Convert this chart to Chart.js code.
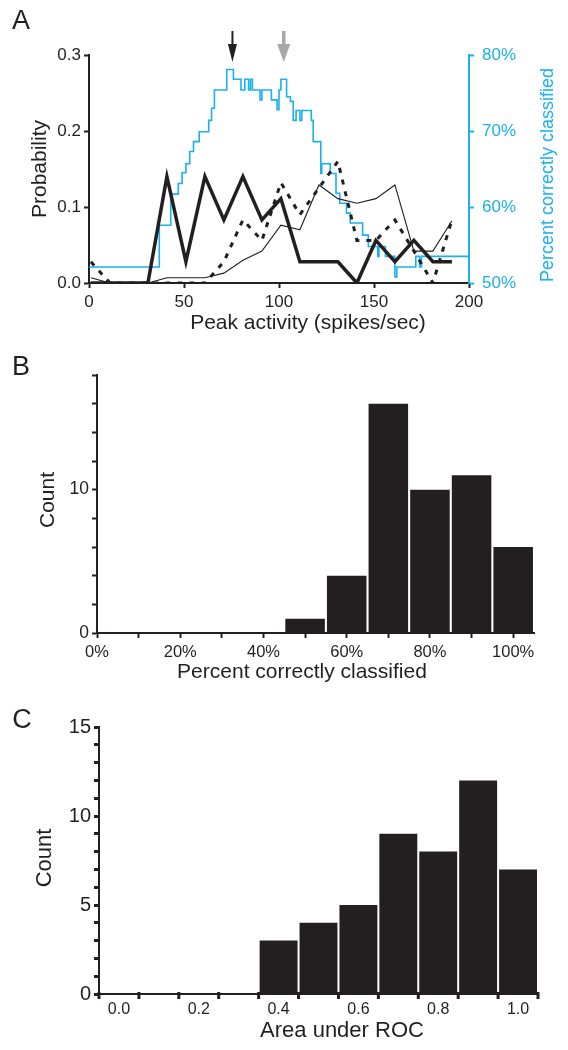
<!DOCTYPE html>
<html>
<head>
<meta charset="utf-8">
<script src="https://cdn.jsdelivr.net/npm/chart.js@4.4.0/dist/chart.umd.min.js"></script>
<style>
  body { margin:0; background:#fff; width:568px; height:1050px; position:relative; overflow:hidden;
         font-family:"Liberation Sans", Arial, sans-serif; color:#231f20; }
  .panel { position:absolute; left:0; width:568px; }
  .lbl { position:absolute; white-space:nowrap; line-height:1; transform:translate(-50%,-50%); }
  .rot { transform:translate(-50%,-50%) rotate(-90deg); }
</style>
</head>
<body>
<div class="panel" style="top:0;height:340px"><canvas id="chartA"></canvas></div>
<div class="panel" style="top:340px;height:350px"><canvas id="chartB"></canvas></div>
<div class="panel" style="top:690px;height:360px"><canvas id="chartC"></canvas></div>

<div class="lbl" style="left:21px;top:20px;font-size:27px">A</div>
<div class="lbl" style="left:21px;top:366px;font-size:27px">B</div>
<div class="lbl" style="left:22px;top:719px;font-size:27px">C</div>

<div class="lbl rot" style="left:38px;top:169px;font-size:21px">Probability</div>
<div class="lbl rot" style="left:547px;top:175px;font-size:18px;color:#1cb0ec">Percent correctly classified</div>
<div class="lbl" style="left:308px;top:321px;font-size:21px">Peak activity (spikes/sec)</div>

<div class="lbl rot" style="left:46px;top:500px;font-size:21px">Count</div>
<div class="lbl" style="left:302px;top:670px;font-size:21px">Percent correctly classified</div>

<div class="lbl rot" style="left:44px;top:858px;font-size:22px">Count</div>
<div class="lbl" style="left:342px;top:1030px;font-size:22px">Area under ROC</div>

<script>
// Panel A: probability distributions vs peak activity
const binX = [1, 11, 21, 31, 41, 51, 61, 71, 81, 91, 101, 111, 121, 131, 141, 151, 161, 171, 181, 191];
const probThick = [0, 0, 0, 0, 0.14, 0.028, 0.14, 0.083, 0.14, 0.083, 0.111, 0.028, 0.028, 0.028, 0, 0.056, 0.028, 0.056, 0.028, 0.028];
const probThin = [0.007, 0, 0, 0, 0.007, 0.007, 0.007, 0.013, 0.03, 0.042, 0.076, 0.07, 0.129, 0.111, 0.105, 0.111, 0.129, 0.042, 0.042, 0.082];
const probDashed = [0.028, 0, 0, 0, 0, 0, 0, 0.028, 0.083, 0.056, 0.132, 0.09, 0.125, 0.16, 0.056, 0.056, 0.083, 0.042, 0, 0.083];

// threshold curve (percent correctly classified), value holds until next x
const thrX = [0, 37, 43, 47, 49, 51, 53, 55, 58, 63, 64.5, 66, 72.5, 76, 80, 82, 84, 85, 86, 90,
              91, 96, 99, 100, 101, 104, 106, 107.5, 109, 111, 112, 117, 118, 122, 122.5, 127, 130, 132, 135.5, 137.5,
              144, 147, 152, 152.6, 156, 161, 162, 172, 174, 175, 197, 200];
const pctCorrect = [52.1, 57.6, 61.7, 63.1, 64.5, 65.7, 67.3, 68.6, 69.9, 71.4, 73, 75.4, 78.1, 76.8, 75.4, 76.8, 75.4, 76.8, 75.4, 74.1,
                    75.4, 74.1, 72.8, 75.4, 76.8, 74.5, 73.9, 71.4, 72.7, 71.4, 72.7, 71.4, 68.6, 64.4, 65.7, 64.4, 61.8, 60.5, 59.2, 57.9,
                    56.3, 54.8, 53.5, 54.8, 53.5, 50.8, 52.1, 53.5, 52.1, 53.5, 53.5, 50];

const arrowX = [75.5, 102.5];
const arrowColors = ['#231f20', '#a7a7a7'];

// Panel B: histogram of percent correctly classified
const pctBins = [0, 10, 20, 30, 40, 50, 60, 70, 80, 90, 100];
const pctCounts = [0, 0, 0, 0, 0, 1, 4, 16, 10, 11, 6];
const pctTicks = [0, 10, 20, 30, 40, 50, 60, 70, 80, 90, 100];
const pctLabels = [0, 20, 40, 60, 80, 100];
const countTicksB = [0, 2, 4, 6, 8, 10, 12, 14, 16, 18];
const countLabelsB = [0, 10];

// Panel C: histogram of area under ROC
const rocBins = [0, 0.1, 0.2, 0.3, 0.4, 0.5, 0.6, 0.7, 0.8, 0.9, 1.0];
const rocCounts = [0, 0, 0, 0, 3, 4, 5, 9, 8, 12, 7];
const rocEdges = [-0.05, 0.05, 0.15, 0.25, 0.35, 0.45, 0.55, 0.65, 0.75, 0.85, 0.95, 1.05];
const rocLabels = [0, 0.2, 0.4, 0.6, 0.8, 1.0];
const countLabelsC = [0, 5, 10, 15];

const INK = '#231f20';
const BLUE = '#1cb0ec';
Chart.defaults.font.family = '"Liberation Sans", Arial, sans-serif';
Chart.defaults.color = INK;

const near = (arr, v) => arr.some(a => Math.abs(a - v) < 1e-6);
const pts = (xs, ys) => xs.map((x, i) => ({x: x, y: ys[i]}));

function fixSize(w, h) {
  return scale => {
    if (w !== null) scale.width = w;
    if (h !== null) scale.height = h;
  };
}

const arrowPlugin = {
  id: 'arrows',
  afterDraw(chart) {
    const ctx = chart.ctx;
    const x = chart.scales.x;
    const top = chart.chartArea.top;
    arrowX.forEach((v, i) => {
      const px = x.getPixelForValue(v);
      const gray = i === 1;
      const half = gray ? 6.5 : 4.5;
      ctx.save();
      ctx.strokeStyle = arrowColors[i];
      ctx.fillStyle = arrowColors[i];
      ctx.lineWidth = gray ? 3.5 : 2;
      ctx.beginPath();
      ctx.moveTo(px, top - 24);
      ctx.lineTo(px, top - 8);
      ctx.stroke();
      ctx.beginPath();
      ctx.moveTo(px - half, top - 11);
      ctx.lineTo(px + half, top - 11);
      ctx.lineTo(px, top + 7);
      ctx.closePath();
      ctx.fill();
      ctx.restore();
    });
  }
};

// tick marks on the bin edges of panel C (labels sit on bin centres)
const edgeTickPlugin = {
  id: 'edgeTicks',
  afterDraw(chart) {
    const ctx = chart.ctx;
    const x = chart.scales.x;
    const y0 = chart.chartArea.bottom;
    ctx.save();
    ctx.strokeStyle = INK;
    ctx.lineWidth = 3;
    rocEdges.forEach(v => {
      const px = x.getPixelForValue(v);
      ctx.beginPath();
      ctx.moveTo(px, y0 - 2);
      ctx.lineTo(px, y0 + 5);
      ctx.stroke();
    });
    ctx.restore();
  }
};

new Chart(document.getElementById('chartA'), {
  type: 'line',
  data: {
    datasets: [
      { data: pts(binX, probThick), borderColor: INK, borderWidth: 3.5, pointRadius: 0, yAxisID: 'y' },
      { data: pts(binX, probDashed), borderColor: INK, borderWidth: 3, borderDash: [5, 7], pointRadius: 0, yAxisID: 'y' },
      { data: pts(binX, probThin), borderColor: INK, borderWidth: 1.1, pointRadius: 0, yAxisID: 'y' },
      { data: pts(thrX, pctCorrect), borderColor: BLUE, borderWidth: 1.6, pointRadius: 0, stepped: true, yAxisID: 'y2' }
    ]
  },
  options: {
    responsive: true,
    maintainAspectRatio: false,
    animation: false,
    layout: { padding: { top: 55, left: 0, right: 0, bottom: 0 } },
    plugins: { legend: { display: false }, tooltip: { enabled: false } },
    scales: {
      x: {
        type: 'linear', min: 0, max: 200,
        afterFit: fixSize(null, 57),
        border: { color: INK, width: 2 },
        grid: { drawOnChartArea: false, tickLength: 5, tickWidth: 2, tickColor: INK },
        ticks: { stepSize: 50, font: { size: 17 }, padding: 4, maxRotation: 0 }
      },
      y: {
        position: 'left', min: 0, max: 0.3,
        afterFit: fixSize(89, null),
        border: { color: INK, width: 2 },
        grid: { drawOnChartArea: false, tickLength: 5, tickWidth: 2, tickColor: INK },
        ticks: { stepSize: 0.1, font: { size: 17 }, padding: 3, callback: v => v.toFixed(1) }
      },
      y2: {
        position: 'right', min: 50, max: 80,
        afterFit: fixSize(99, null),
        border: { color: BLUE, width: 2 },
        grid: { drawOnChartArea: false, tickLength: 5, tickWidth: 2, tickColor: BLUE },
        ticks: { stepSize: 10, color: BLUE, font: { size: 17 }, padding: 8, callback: v => v + '%' }
      }
    }
  },
  plugins: [arrowPlugin]
});

new Chart(document.getElementById('chartB'), {
  type: 'bar',
  data: {
    datasets: [{ data: pts(pctBins, pctCounts), backgroundColor: INK, borderWidth: 0,
                 barPercentage: 0.95, categoryPercentage: 1 }]
  },
  options: {
    responsive: true,
    maintainAspectRatio: false,
    animation: false,
    layout: { padding: { top: 35, left: 0, right: 34, bottom: 0 } },
    plugins: { legend: { display: false }, tooltip: { enabled: false } },
    scales: {
      x: {
        type: 'linear', min: 0, max: 105, offset: false,
        afterFit: fixSize(null, 57),
        afterBuildTicks: s => { s.ticks = pctTicks.map(v => ({ value: v })); },
        border: { color: INK, width: 2 },
        grid: { offset: false, drawOnChartArea: false, tickLength: 5, tickWidth: 2, tickColor: INK },
        ticks: { autoSkip: false, maxRotation: 0, font: { size: 16.5 }, padding: 5,
                 callback: v => near(pctLabels, v) ? v + '%' : '' }
      },
      y: {
        min: 0, max: 18,
        afterFit: fixSize(97, null),
        afterBuildTicks: s => { s.ticks = countTicksB.map(v => ({ value: v })); },
        border: { color: INK, width: 2 },
        grid: { drawOnChartArea: false, tickLength: 5, tickWidth: 2, tickColor: INK },
        ticks: { autoSkip: false, font: { size: 17.5 }, padding: 3,
                 callback: v => near(countLabelsB, v) ? String(v) : '' }
      }
    }
  }
});

new Chart(document.getElementById('chartC'), {
  type: 'bar',
  data: {
    datasets: [{ data: pts(rocBins, rocCounts), backgroundColor: INK, borderWidth: 0,
                 barPercentage: 0.95, categoryPercentage: 1 }]
  },
  options: {
    responsive: true,
    maintainAspectRatio: false,
    animation: false,
    layout: { padding: { top: 37, left: 0, right: 30, bottom: 0 } },
    plugins: { legend: { display: false }, tooltip: { enabled: false } },
    scales: {
      x: {
        type: 'linear', min: -0.05, max: 1.05, offset: false,
        afterFit: fixSize(null, 56),
        afterBuildTicks: s => { s.ticks = rocLabels.map(v => ({ value: v })); },
        border: { color: INK, width: 2 },
        grid: { offset: false, drawOnChartArea: false, tickLength: 5, tickColor: 'rgba(0,0,0,0)' },
        ticks: { autoSkip: false, maxRotation: 0, font: { size: 16 }, padding: 1,
                 callback: v => v.toFixed(1) }
      },
      y: {
        min: 0, max: 15,
        afterFit: fixSize(99, null),
        border: { color: INK, width: 2 },
        grid: { drawOnChartArea: false, tickLength: 5, tickWidth: 3, tickColor: INK },
        ticks: { stepSize: 1, autoSkip: false, font: { size: 20 }, padding: 3,
                 callback: v => near(countLabelsC, v) ? String(v) : '' }
      }
    }
  },
  plugins: [edgeTickPlugin]
});
</script>
</body>
</html>
